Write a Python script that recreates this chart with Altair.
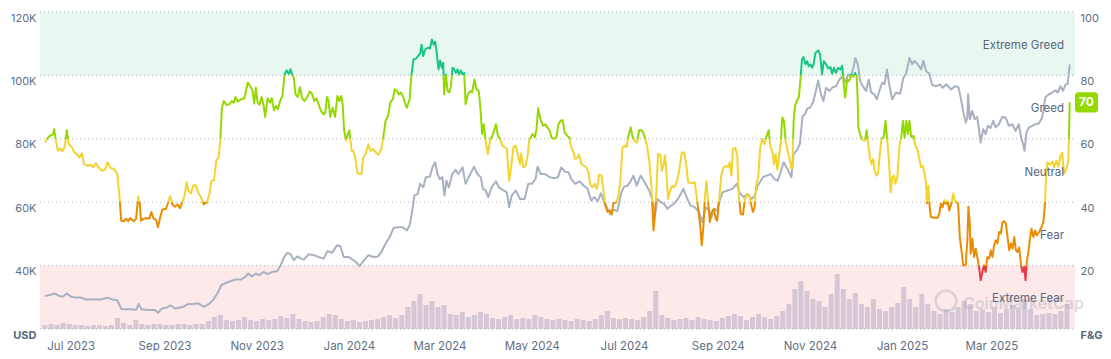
import altair as alt
import pandas as pd

# ---------------- data ----------------
START = "2023-06-14"          # first day on the chart (UTC)
END_DAY = 678                 # last day offset shown

# Fear & Greed index: day offset since START, index value (0-100)
fg_day = [0,2,3.5,5.2,6.1,7,8.5,10,11.4,13,14.4,15.7,17.9,19.4,21,22.7,24.5,25.8,28.2,30.3,31.9,33.6,35.4,37.6,39.7,41.3,43.4,45.6,47.8,49.3,50.4,52.2,53.7,55,56.3,58.7,60.3,61.6,62.7,63.5,65.3,67.5,69,70.3,71.8,73.4,74.7,76.2,77.7,80,81.2,82.8,84.3,86,87.7,89.3,90.8,92.1,93.7,94.8,96.5,98,99.6,101.3,103.1,105,107.2,109,110,111.8,113.3,114.8,116,117,118.3,119.9,122,123.6,124.9,126,127.5,129.7,131.9,134.1,135.8,137.3,138.4,139.5,140.6,141.9,143.2,144.5,145.6,147.2,148.9,150,151.5,152.8,154.1,155.5,157,158.5,159.8,161.4,162.4,163.5,164.6,165.7,167.2,168.6,
          170.1,171.6,173.4,175.1,176.6,178.2,179.5,181,182.5,184.3,185.4,186.5,187.6,188.6,190.2,191.9,193.4,194.8,195.9,196.9,197.8,199.1,200.2,201.3,202.8,203.9,205,206.6,207.9,209.4,210.5,212.1,213.8,215.3,217,218.8,220.5,222.5,223.6,225.3,226.9,228.4,230.1,231.3,232.8,234.1,235.6,237.2,238.4,239.3,241.2,242.2,243.7,245.4,246.7,248.1,249.1,250.2,251.5,253.1,254.6,255.9,257.1,258.1,259,260.3,261.4,262.5,263.4,264,265.2,266.3,267.4,268.5,269.6,270.7,271.8,272.9,273.8,275.1,276.2,277.3,278.2,279.7,281.4,282.5,284.1,285.4,286.9,288,289.1,290.2,291.3,293,294.5,295.6,296.7,298.3,299.6,301.1,302.6,304.4,305.5,307,308.3,309.9,311.4,312.7,314.2,314.9,316.4,317.9,319.2,320.3,321.2,322.5,324,325.1,326.2,327.7,329.5,331,332.3,333.9,335,336.6,338.2,
          339.5,341.1,342.4,343.7,345.5,347,348.1,349.2,350.8,352.1,353.3,354.8,356.6,358.1,359.6,360.5,362.2,363.7,365.1,366.6,368.1,369.4,370.5,372.1,373.6,374.8,376,377.8,379.1,380.4,382,383.4,384.7,385.9,387.4,388.7,390.2,391.7,393,394.4,395.7,397,398.4,399.7,401,401.9,402.5,403.3,404.4,405.5,407,408.1,409.2,410.1,411,412.1,413.6,414.9,416.2,417.5,418.9,420.2,421.2,422.8,424.1,425.4,426.8,428.5,429.8,431.1,432.2,433.3,434.4,435.5,436.5,437.6,438.7,439.8,441.1,442.4,443.7,444.6,445.9,447.4,448.9,450.7,451.8,452.9,454,455.1,456.6,457.9,459,460.2,461.7,462.8,464.3,466.1,467.2,468.3,469.4,470.5,471.8,473.1,474.5,476,477.1,478.7,479.8,481.1,482.2,483.3,484.4,485.5,486.6,487.7,488.8,489.9,491.2,492.5,493.7,494.3,495.2,496.1,497.4,498.7,499.8,500.7,501.7,503,504.1,505.2,506.3,507.4,508.5,509.6,
          511.4,512.7,514,515.1,516.7,518.1,519.6,520.7,521.8,523.1,524.7,526.2,527.3,528.2,529.3,530.6,531.9,533.2,534.7,535.8,536.9,537.5,538,539.1,540.2,541.3,542.4,543.5,544.5,545.7,546.7,547.8,548.9,550,551.1,552.2,553.3,554.8,556,557,558.1,559.4,560.5,561.6,562.5,563.8,565.3,566.4,567.5,568.6,569.7,570.7,571.8,572.9,574.4,575.8,577.3,578.4,579.5,580.6,581.7,582.8,583.4,584.3,585.2,586,588.2,590.4,591.5,592.6,593.7,594.8,595.9,597,598.1,599.6,600.9,601.8,603.1,604,605.1,606.2,607.3,609,610.1,610.8,611.7,612.3,613.4,614.5,615.6,616.7,617.8,618.9,620,621.1,622.2,623.3,624.5,625.6,626.7,627.8,628.9,630,631.1,632.2,633.4,634.5,635.6,636.7,637.8,638.9,640,641.1,642.2,643.3,644.4,645.5,646.6,647.7,648.6,649.4,650.3,651.4,652.5,653.8,654.9,656,657.6,659.1,660.4,661.5,662.2,663.1,664.8,666.4,667.5,669,670.4,671.5,672.8,674.1,675.9,676.8,677.3,677.8]
fg_val = [58.8,60.4,61,61.3,63,59.9,56.2,57,56,57.3,62.7,58.3,57.3,55.7,55.2,54.1,55.4,52,51.5,51.8,51,52.3,51,50,50.2,52.6,50.8,50.5,48.9,41.6,34.2,34,34.8,34,35,34,34.8,41.8,39.5,34.2,34.8,35,34.8,36.9,34.8,34.5,32.1,35.3,37.7,37.9,39.5,41.9,39.3,38.6,39.3,38.1,40,41.6,46.3,43.7,42.8,45.2,45.5,43.1,41.6,39.3,40,43.1,46.6,47,53.1,54.1,59.6,69.8,71.9,70.7,70.9,71.9,71.4,73.2,71.7,72.5,72.8,77.7,76.6,75.1,71.1,76.1,71.4,70.7,73.2,70.9,66.9,72.8,71.4,72.8,69,70.4,69.3,71.9,73.5,80.3,81.6,80.5,81.9,80.3,79.3,74,73.2,76.3,
          72.8,71.9,73.2,74.9,74.2,71.9,72.8,70.9,68.8,67.7,68.3,73.2,71.9,66.9,69.8,66.9,73.5,71.9,73.5,70.9,63,59.4,61.3,62.7,56.2,56.2,54.7,49.4,48.9,48.9,54.1,55.2,58.3,56.2,56.8,55.7,55,56.8,59.9,65.7,67.2,71.4,72.5,75.6,75.1,74,74.6,72.8,70.9,69.8,72.5,79.3,85,85.3,86.1,86.8,89.7,86.1,88.2,88.7,88.5,91.3,89.7,90.6,87.6,81.9,84.7,82.4,84,74,80.3,75.1,74.6,76.6,82.4,81.9,80.8,81.9,80.3,81.6,80.3,80.8,70.9,74,75.1,74.6,78.7,75.6,75.1,69.8,61.5,64.6,59.9,55.2,59.9,60.6,62,64.6,60.9,59.9,57.8,57.3,56.8,46.8,51,57.5,57.8,55.2,52,55.4,51,51.5,54.7,59.4,60.4,61.5,60.4,63,69.6,66.2,64.1,64.6,63.6,62.5,60.4,59.9,60.4,
          64.4,65.7,65.9,62,60.9,60.4,57.3,56.2,53.6,54.1,55,52,51.5,51,49.4,45.8,44.7,45.8,44.2,48.7,48.4,43.7,39.3,36.9,37.4,36.1,39.7,39.9,41.6,45.8,57.3,57.8,57.5,60.9,63.6,60.6,59.2,58.8,62.7,62.8,62,59.9,57.3,53.1,45.8,37.4,31.1,35.3,43.7,55.2,55,49.9,52,54.7,49.9,41,43.7,45.2,44.7,45.8,48.4,52,55.7,55.7,52,46.3,46,46,46.3,41.6,37.4,33.2,26.4,32.1,41.6,46.6,39.5,33.7,36.9,37.9,34.8,34.2,40.5,48.9,51,51.5,51,52.6,48.4,56.8,57.1,54.7,41.6,36.3,36.1,40.5,42.6,41.6,39,36.9,38.4,45.8,47.9,57.3,59.9,58.3,60.6,62.7,57.3,56.2,52,55.2,50.2,54.1,58.3,66.7,65.7,59.4,56.2,53.6,50.5,51,65.7,70.4,72.1,73.2,79.3,85,85.8,83.5,84.5,82.9,83.5,82.4,83.7,87.1,
          87.9,86.6,80.3,84.5,83.5,82.2,82.6,80.5,82.4,80.8,82.4,81.9,83,77.7,73,78.7,78.2,80.3,79.5,80.8,79.8,73,63.6,61.5,59.9,59.6,59.4,62.7,58.3,54.1,52,53.6,49.9,48.4,49.1,55.2,59.9,60.6,65.7,59.9,54.1,43.1,47.9,48.4,45.8,47.9,58.3,60.4,65.7,60.4,65.7,61.5,65.7,60.6,60.9,57.8,56.2,53.6,51,51.5,49.4,45.8,39.7,45.2,38.4,35.3,35.1,35.1,36.3,39.5,38.4,40.7,39.5,40.5,37.4,39.7,42.8,40.5,40,39.5,29,24.8,20.1,20.1,28,38.6,33.2,23.8,28.5,22.7,25.3,22.7,19.6,15.4,18,20.1,18,22.7,22.2,24.8,22.7,26.4,28,27,30.6,30.1,33.7,34,33.2,29,24.8,27,25.3,29,24.8,24.3,25.7,20.6,18,19.6,15.4,21.2,23.8,28,31.6,29,31.1,29.5,30.6,32.1,33.7,40,48.9,52.6,51.8,52.9,51,53.1,51.2,54.1,55.7,48.9,51,52.6,60,71.5]

# Bitcoin price, thousands of USD: day offset since START, price
btc_day = [0,3,6.3,9.6,11.8,14.4,17.2,20.5,23.8,27.1,30.3,33.6,36.9,41.3,44.5,47.8,49.3,50.7,54.4,57.6,60.3,62,63.8,67.5,70.7,72.9,74.7,77.3,80.6,82.8,86,89.3,91.5,94.8,98,101.3,105.2,109,111.1,114,116.6,119.9,123.1,126.4,129.7,132.3,134.5,136.7,139.5,141.7,144.5,147.2,150.4,153.7,155.9,158.1,160.3,162.4,164.6,166.8,
           169.5,171.2,174.5,177.7,181,184.3,186.9,189.8,193.2,195.4,197.6,200.9,204.1,206.8,208.1,210.7,214,217.2,220.3,222.5,225.3,228,230.6,233.4,236.7,239.3,241.2,242.8,244.3,246.5,248.1,250.2,251.9,254.6,256.3,258.1,259.6,261.1,262.9,264.2,265.5,267.2,269.4,271.6,273.4,276.2,278.2,280.8,283.8,286,288.2,289.7,291.5,293.2,295.4,298.3,300.2,303.3,305.5,307,308.7,311.4,314.2,317.2,319.7,321.9,324.5,325.8,327.9,330.6,333.9,336.7,
           339.3,341.5,343.7,346.3,348.1,350.8,353.5,356.4,359,361.2,363.4,365.5,367.7,369.9,372.1,373.8,376,378.6,381.2,383.1,385.2,387,389.2,391.4,394,396.7,399.6,401.8,403.3,405.1,407.3,409.5,411.7,413.9,416.1,419.4,422.3,424.9,427.1,429.8,432.6,434.8,437,439.2,440.8,442.6,444.3,445.9,448.1,451.4,454.7,457.6,459.3,462.1,464.8,467.4,469.6,471.4,474.9,477.5,480.1,482.4,484.6,486.2,488.6,491.4,493.7,495.2,497.4,499.3,501.1,502.7,504.2,506,508.2,509.9,
           511.4,513.3,514.9,516.6,518.9,521.1,523.3,525.5,527.8,529.5,531.2,533.2,534.7,536.1,537.6,539.2,540.9,543.1,544.9,546.5,548.6,550.2,551.9,553.7,555.3,556.9,558.6,560.4,563,565.7,567.8,569.6,571.8,573.6,575.1,577.3,579.5,581,582.8,585,586.8,589.4,592,593.8,596.2,599.3,602,604.2,605.7,607.3,609,610.1,610.6,611.8,613.4,614.9,616.6,617.8,618.9,620.6,622.2,623.7,625.5,627.2,628.8,631,633.2,635.4,637.6,639.8,642,644.1,645.7,647,647.9,649.2,650.8,653,655.2,657.4,659.6,661.8,664,666.2,668.4,669.9,671.7,673.4,674.9,676.5,677.8]
btc_price = [30.4,30.7,31.2,30.4,30.2,31.2,30.2,29.9,29.9,29.3,29.3,29.3,29.3,29.9,29.3,29.1,27.5,26.2,26.2,26.2,26,27.9,26.2,26,26,26,25.1,26.5,26.8,27.5,26.5,26.8,27,27.9,27.9,28.1,27,28.1,29.1,31.2,33.8,34.6,35.2,35.6,35.6,36.4,37.5,36.6,37.5,37,38,37.3,38,38.3,40.1,42.7,44,43.6,41.7,42.9,
             42.2,41.9,43.6,43.3,42.7,42.2,44.6,44,46.4,46.1,42.7,42.7,41.7,40.6,39.8,41.5,43.3,42.7,42.9,44.3,46.9,49,51.9,52.1,52.1,51.1,52.7,56.9,62.1,62.6,65.8,64.7,67.9,68.1,71,72.6,68.9,67.3,67.9,62.1,66.8,64.7,68.9,70.2,68.9,71,65.8,68.4,71.2,68.9,67.9,64.2,63.7,61.6,64.7,66.6,64.7,63.7,63.1,58.4,62.1,63.7,61,61,65.8,65.8,67.3,71.2,68.9,68.9,67.9,67.6,
             67.9,71,69.7,69.4,67.3,65.8,66.6,65.2,64.2,60.5,61.6,60.3,62.8,60,57.9,56.3,57.6,57.2,63.1,64.9,65.2,66.3,68.4,65.2,68.4,66.3,63.7,60.5,55.3,61,60,59.5,57.9,58.9,59.5,61.6,64.2,61,58.9,58.4,56.9,53.7,58.4,57.4,55.3,57.9,57.4,60,63.1,63.7,64.2,65.8,63.1,61.6,62.6,61,62.1,65.2,67.9,68.4,68.9,67.3,66.8,68.9,72.6,70.2,67.9,75.2,76.4,78.3,87.2,87.7,89.6,89.8,91.7,95.1,
             98.4,94,91.9,96.1,95.1,96.3,96.6,98.7,99.8,97.7,100.3,99.8,102.4,105.5,103.5,98.2,96.6,95.1,98.7,94.6,94,92.5,95.1,97.7,97.2,101.9,96.6,92.5,94.6,94.2,99.3,100.5,105.5,103.5,104.6,103.5,101.9,104.6,101.4,100.5,97,96.6,97.2,96.1,97.2,95.6,96.6,96.3,93,88.8,85.1,86.5,94,86.2,88.8,86.2,86.9,83,78.8,83,81.5,84.1,83.4,85.7,83.6,84.6,86.9,86.7,84.1,84.6,82.5,84.6,80.4,78.3,76.2,82,83.6,84.1,84.6,84.8,86.7,93.2,94,94.6,95.3,94.6,96.6,95.1,97,97.4,103.5]

# Trading volume (billions USD), one bar every 4 days
vol_day = list(range(0, 677, 4))
vol = [4,5,4,6,5,4,4,3,4,4,3,4,11,6,4,9,5,4,5,5,4,4,5,5,4,5,5,8,12,14,9,8,9,12,9,8,10,9,10,13,11,15,10,
       8,7,8,12,15,14,10,8,9,7,8,9,10,12,14,11,14,22,28,35,24,28,22,24,15,14,17,12,14,17,15,11,10,12,14,10,11,10,14,12,10,9,10,
       9,8,10,9,8,10,14,18,11,10,11,10,9,12,18,38,14,11,9,10,11,9,12,10,9,8,11,13,15,13,9,12,15,12,10,13,18,25,40,48,38,30,
       28,22,35,55,40,30,36,25,22,30,20,18,22,26,42,30,22,35,25,18,15,20,17,22,28,25,18,20,17,22,16,20,24,20,30,20,14,15,16,15,18,25]

month_ticks = ["2023-07-01", "2023-09-01", "2023-11-01", "2024-01-01", "2024-03-01", "2024-05-01",
               "2024-07-01", "2024-09-01", "2024-11-01", "2025-01-01", "2025-03-01"]
usd_ticks = [20, 40, 60, 80, 100, 120]
fg_ticks = [0, 20, 40, 60, 80, 100]
zone_names = ["Extreme Greed", "Greed", "Neutral", "Fear", "Extreme Fear"]
zone_mid = [90, 70, 50, 30, 10]
zone_edges = [20, 40, 60, 80]
zone_colors_low_to_high = ["#ea3943", "#ea8c00", "#f3d42f", "#93d900", "#16c784"]
current_label = "70"

# ---------------- helpers ----------------
DAY_MS = 86400000
start_ms = int(pd.Timestamp(START, tz="UTC").timestamp() * 1000)
def to_ms(d):
    return start_ms + d * DAY_MS

W, H = 1035, 317
LABEL = "#616e85"
DARK = "#58667e"
FONT = "Inter"

fg_df = pd.DataFrame({"t": [to_ms(d) for d in fg_day], "v": fg_val})
btc_df = pd.DataFrame({"t": [to_ms(d) for d in btc_day], "p": btc_price})
vol_df = pd.DataFrame({"t": [to_ms(d) for d in vol_day], "vol": vol})
tick_ms = [int(pd.Timestamp(s, tz="UTC").timestamp() * 1000) for s in month_ticks]

x_scale = alt.Scale(type="utc", domain=[start_ms, to_ms(END_DAY)])
x_axis = alt.Axis(values=tick_ms, labelExpr="utcFormat(datum.value, '%b %Y')", grid=False,
                  domain=False, ticks=False, tickSize=0, labelPadding=20, labelBaseline="alphabetic",
                  labelFont=FONT, labelFontSize=11.5, labelColor=LABEL, title=None,
                  labelFlush=False, labelOverlap=False)
X = alt.X("t:T", scale=x_scale, axis=x_axis)

fg_scale = alt.Scale(domain=[0, 100], nice=False, zero=False)
usd_scale = alt.Scale(domain=[20, 120], nice=False, zero=False)

# background zones
bands_df = pd.DataFrame({"lo": [80, 0], "hi": [100, 20], "c": ["#e8f8f1", "#fde9ea"]})
bands = alt.Chart(bands_df).mark_rect().encode(
    x=alt.value(0), x2=alt.value(W),
    y=alt.Y("lo:Q", scale=fg_scale, axis=None), y2="hi:Q",
    color=alt.Color("c:N", scale=None))

volume = alt.Chart(vol_df).mark_bar(width=5, color="#d5c7d6").encode(
    x=X, y=alt.Y("vol:Q", scale=alt.Scale(domain=[0, H], nice=False), axis=None))

grid = alt.Chart(pd.DataFrame({"g": usd_ticks})).mark_rule(
    strokeDash=[1, 3], color="#aeb3bc", strokeWidth=1).encode(
    y=alt.Y("g:Q", scale=usd_scale, axis=None), x=alt.value(0), x2=alt.value(W))

one = pd.DataFrame({"a": [0]})
wm_text = alt.Chart(one).mark_text(text="CoinMarketCap", align="left", baseline="middle",
                                   font=FONT, fontSize=16, fontWeight=600, color="#9aa3b5",
                                   opacity=0.35).encode(x=alt.value(923), y=alt.value(292))
wm_logo = alt.Chart(one).mark_point(shape="circle", filled=False, size=420, strokeWidth=2.5,
                                    color="#9aa3b5", opacity=0.35).encode(
    x=alt.value(906), y=alt.value(289))

usd_axis = alt.Axis(orient="left", values=usd_ticks,
                    labelExpr="datum.value == 20 ? 'USD' : datum.value + 'K'",
                    grid=False, domain=False, ticks=False, tickSize=0, labelPadding=4,
                    labelBaseline="middle", labelOffset=6, labelFont=FONT, labelFontSize=11,
                    labelColor={"condition": {"test": "datum.value == 20", "value": DARK}, "value": LABEL},
                    labelFontWeight={"condition": {"test": "datum.value == 20", "value": "bold"}, "value": "normal"},
                    title=None, labelFlush=False, labelOverlap=False)
btc_line = alt.Chart(btc_df).mark_line(color="#a7b1c2", strokeWidth=2, strokeJoin="round").encode(
    x=X, y=alt.Y("p:Q", scale=usd_scale, axis=usd_axis))

lo, hi = min(fg_val), max(fg_val)
def off(v):
    return max(0.0, min(1.0, (v - lo) / (hi - lo)))
bounds = [0.0] + [off(e) for e in zone_edges] + [1.0]
stops = []
for i, c in enumerate(zone_colors_low_to_high):
    stops.append(alt.GradientStop(offset=bounds[i], color=c))
    stops.append(alt.GradientStop(offset=bounds[i + 1], color=c))
grad = alt.LinearGradient(gradient="linear", stops=stops, x1=0, x2=0, y1=1, y2=0)

fg_axis = alt.Axis(orient="right", values=fg_ticks,
                   labelExpr="datum.value == 0 ? 'F&G' : datum.value",
                   grid=False, domain=False, ticks=False, tickSize=0, labelPadding=5,
                   labelBaseline="middle", labelOffset=6, labelFont=FONT, labelFontSize=11,
                   labelColor={"condition": {"test": "datum.value == 0", "value": DARK}, "value": LABEL},
                   labelFontWeight={"condition": {"test": "datum.value == 0", "value": "bold"}, "value": "normal"},
                   title=None, labelFlush=False, labelOverlap=False)
fg_line = alt.Chart(fg_df).mark_line(stroke=grad, strokeWidth=2, strokeJoin="round").encode(
    x=X, y=alt.Y("v:Q", scale=fg_scale, axis=fg_axis))

zones = alt.Chart(pd.DataFrame({"name": zone_names, "m": zone_mid})).mark_text(
    align="right", baseline="middle", dy=2, font=FONT, fontSize=11.5, color=DARK).encode(
    x=alt.value(W - 11), y=alt.Y("m:Q", scale=fg_scale, axis=None), text="name:N")

last_v = fg_val[-1]
badge_df = pd.DataFrame({"lo": [last_v - 3.2], "hi": [last_v + 3.2], "m": [last_v], "txt": [current_label]})
badge = alt.Chart(badge_df).mark_rect(cornerRadius=3, color="#93d900").encode(
    x=alt.value(W), x2=alt.value(W + 23),
    y=alt.Y("lo:Q", scale=fg_scale, axis=None), y2="hi:Q")
badge_txt = alt.Chart(badge_df).mark_text(align="center", baseline="middle", font=FONT, fontSize=12,
                                          fontWeight="bold", color="white").encode(
    x=alt.value(W + 11.5), y=alt.Y("m:Q", scale=fg_scale, axis=None), text="txt:N")

chart = alt.layer(bands, volume, grid, wm_logo, wm_text, btc_line, fg_line, zones, badge, badge_txt
                  ).resolve_scale(y="independent").properties(
    width=W, height=H,
    padding={"left": 32, "top": 4, "right": 28, "bottom": 22},
    autosize=alt.AutoSizeParams(type="none"),
).configure_view(stroke=None)

chart.save("out.html", embed_options={"renderer": "svg", "actions": False})
